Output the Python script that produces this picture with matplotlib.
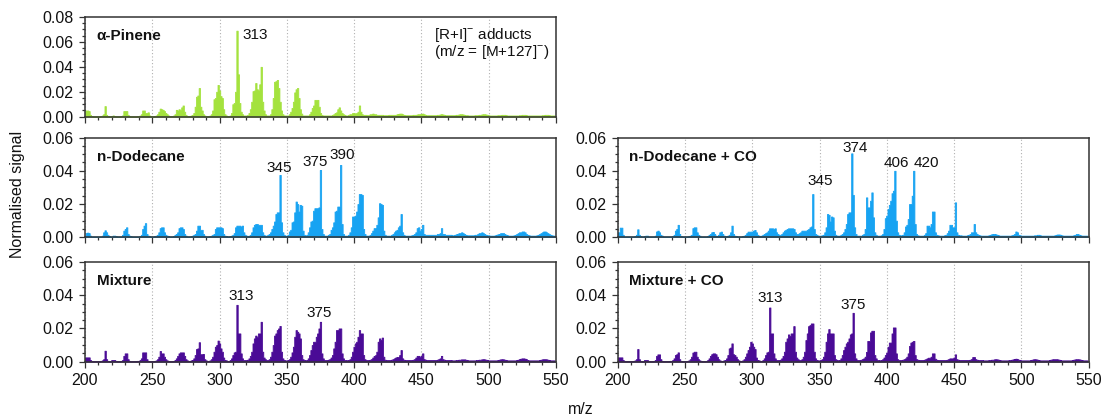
import numpy as np
import matplotlib
matplotlib.use('Agg')
import matplotlib.pyplot as plt
from matplotlib.ticker import MultipleLocator, FormatStrFormatter

plt.rcParams['font.family'] = ['Liberation Sans', 'DejaVu Sans']
plt.rcParams['mathtext.fontset'] = 'custom'
plt.rcParams['mathtext.rm'] = 'Liberation Sans'

# unit-mass channels, m/z 200..549
mz = np.arange(200, 550)

# normalised signal, x 1e-3, ten channels per row
pinene = [
    4.5, 5, 5, 4.5, 1.5, .5, .3, .3, .3, .3,          # 200
    .3, .3, .5, 1, 2, 8.5, 1.5, .5, .3, .3,           # 210
    .5, 1, .5, .3, .3, .3, .3, .5, 1, 4.5,            # 220
    4.5, 4.5, 1.5, .5, .3, .3, .3, .3, .3, .5,        # 230
    .5, 1, 2, 5, 5, 3, 3, 3.5, 1, .5,                 # 240
    .3, .3, .5, 1, 2, 4, 6.5, 6, 5.5, 4.5,            # 250
    3, 2, 1, .5, .5, .5, 1, 2, 5.5, 5,                # 260
    6, 5.5, 7.5, 9, 4, 1.5, .5, .5, .5, 1,            # 270
    1.5, 3, 8, 16, 17, 23, 8, 5, 2, 1,                # 280
    .5, .5, .5, 1, 2, 5, 14, 15, 20, 25.5,            # 290
    21, 16.5, 15, 6, 2, 1, .5, .5, 1, 3,              # 300
    10, 11, 20, 69, 34, 11, 4, 2, 1, 1,               # 310
    1, 1.5, 3, 6, 12, 20.5, 21, 27, 22, 21,           # 320
    26, 40, 12, 5, 2, 1, 1, 1, 2, 6,                  # 330
    15, 28, 28.5, 29.5, 23, 12, 5, 2, 1, 1,           # 340
    1, 1, 2, 4, 7, 12, 19.5, 22, 23, 15,              # 350
    6, 2.5, 1, 1, 1, 1, 1, 2, 4, 7,                   # 360
    9, 13.5, 13.5, 13.5, 8, 3, 1.5, 1, 1, 1,          # 370
    1, 1, 1, 1, 1.5, 2, 3, 3.5, 6, 7.5,               # 380
    5, 3, 2, 1.5, 1, 1, 1.5, 2, 2, 3,                 # 390
    3, 2.5, 3, 4, 9, 4, 2, 1.5, 1.5, 1.5,             # 400
    1, 1.5, 2, 2, 2.5, 2, 2, 1.5, 1.5, 1.5,           # 410
    1.5, 1.5, 1.2, 1.2, 1.2, 1.2, 1.5, 1.5, 1.5, 1.5, # 420
    1.5, 1.5, 2, 2.2, 2.5, 2.5, 2, 1.5, 1.2, 1.2,     # 430
    1.2, 1.2, 1.2, 1.2, 1.5, 1.5, 1.5, 1.8, 2, 2,     # 440
    2.2, 2.5, 2, 1.5, 1.2, 1.2, 1.2, 1.2, 1.2, 1.2,   # 450
    1.2, 1.2, 1.5, 1.5, 1.8, 2, 1.8, 1.5, 1.2, 1.2,   # 460
    1.2, 1.2, 1.2, 1.2, 1.2, 1.2, 1.5, 1.5, 1.8, 2,   # 470
    2, 1.8, 1.5, 1.2, 1.2, 1, 1, 1, 1, 1,             # 480
    1.2, 1.2, 1.2, 1.5, 1.5, 1.8, 2, 2, 1.8, 1.5,     # 490
    1.2, 1, 1, 1, 1, 1, 1, 1.2, 1.2, 1.2,             # 500
    1.5, 1.5, 1.5, 1.2, 1, 1, 1, 1, 1, 1,             # 510
    1, 1, 1, 1.2, 1.2, 1.5, 1.5, 1.5, 1.2, 1,         # 520
    1, 1, 1, 1, 1, 1, 1, 1, 1, 1,                     # 530
    1.2, 1.2, 1.5, 1.5, 1.5, 1.2, 1, 1, 1, 1,         # 540
]

dodecane = [
    1, 2.5, 2.8, 2.5, 1, .5, .5, .5, .5, .5,          # 200
    .5, .5, .5, 1, 3, 4.2, 3, 1.5, .8, .5,            # 210
    .5, 1, 1, .8, .5, .5, .5, .5, 1.5, 4,             # 220
    5, 6, 2, 1, .8, .5, .5, .5, .5, .5,               # 230
    .5, .8, 1.5, 5, 7, 8.5, 2, 1, .8, .5,             # 240
    .5, .5, .8, 1, 1.5, 3, 5.5, 6, 6, 3,              # 250
    1.5, 1, .8, .5, .5, .5, .8, 1.5, 2, 3,            # 260
    5.5, 6, 6, 5, 2, 1, .5, .5, .5, .8,               # 270
    1, 1.5, 2, 4, 7, 7, 4.5, 4.5, 2, 1,               # 280
    .5, .5, .5, .8, 1, 1.5, 2, 5, 6, 6,               # 290
    6, 6, 5.5, 2, 1, .8, .5, .5, .8, 1,               # 300
    1.5, 2.5, 6, 7, 7, 7, 6.5, 7, 3, 1.5,             # 310
    1, .8, 1, 1.5, 3, 6, 7.5, 8, 8, 7.5,              # 320
    7.5, 7.5, 3, 1.5, 1, 1, 1.5, 2, 3, 5,             # 330
    7, 9.5, 14, 15, 15, 37.5, 9, 3, 1.5, 1,           # 340
    1, 1.5, 3.5, 4.5, 9, 9.5, 15, 21.5, 20, 15.5,     # 350
    19.5, 19, 4, 1.5, 1, 1.5, 3, 6, 9.5, 10,          # 360
    16, 17.5, 17.5, 17.5, 18, 40.5, 5, 2, 1, 1,       # 370
    1, 1.5, 2, 4.5, 6, 9, 15.5, 16, 18.5, 18.5,       # 380
    43.5, 8, 2, 1, 1, 1, 1.5, 3, 6, 12.5,             # 390
    12.5, 13, 15.5, 20, 26, 26, 25.5, 5, 2, 1,        # 400
    1, 1, 1.5, 2.5, 4, 5.5, 5.5, 7.5, 12, 20.5,       # 410
    20, 19.5, 4, 1.5, 1, 1, 1, 1, 1.5, 2,             # 420
    3, 4, 4.5, 6, 7, 14, 3, 1.5, 1, 1,                # 430
    1, 1, 1, 1.2, 1.5, 2, 3, 5.5, 6, 4,               # 440
    5, 7.5, 2, 1.5, 1.5, 1.5, 1.5, 1.5, 1.5, 1.5,     # 450
    1.5, 1.5, 2, 2, 2.5, 5.5, 2, 2, 1.5, 1.5,         # 460
    1.5, 1.5, 1.5, 1.2, 1.2, 1.5, 1.8, 2, 2.5, 2.5,   # 470
    3, 2.5, 2, 1.5, 1.2, 1.2, 1.2, 1.2, 1.2, 1.2,     # 480
    1.5, 1.5, 2, 2.5, 2.5, 3, 2.5, 2, 1.5, 1.2,       # 490
    1.2, 1, 1, 1, 1, 1.2, 1.5, 1.8, 2, 2.5,           # 500
    2.5, 2.5, 2, 1.5, 1.2, 1, 1, 1, 1, 1.2,           # 510
    1.5, 2, 2.5, 3, 3, 3.5, 3.5, 3, 2, 1.5,           # 520
    1.2, 1, 1, 1, 1, 1, 1.2, 1.5, 2, 2.5,             # 530
    3, 3.5, 3.5, 3, 2.5, 2, 1.5, 1.2, 1, 1,           # 540
]

dodecane_co = [
    3, 3, 5.8, 5.8, 1.5, .5, .5, .5, .5, .5,          # 200
    .5, .5, .5, .8, 1.5, 4.8, 1.5, .8, .5, .5,        # 210
    .8, 1, 1, .5, .5, .5, .5, .5, 1, 3.5,             # 220
    4, 3, 1.5, 1, .5, .5, .5, .5, .5, .5,             # 230
    .5, .8, 1.5, 4, 5, 7.5, 2, .8, .5, .5,            # 240
    .5, .5, .5, .8, 1, 1.5, 5.5, 6, 6, 3,             # 250
    1.5, 1, .5, .5, .5, .5, .5, .8, 1.5, 2,           # 260
    3, 3.2, 2, 1, .8, 1.5, 3, 3.4, 2, 1,              # 270
    .8, .8, 1, 1.5, 3, 7, 2, 1, .8, .5,               # 280
    .5, .5, .5, .8, 1, 1.5, 2.5, 3.4, 3.4, 3.4,       # 290
    3.5, 4, 4.4, 3, 1.5, 1, .8, 1, 1.5, 2,            # 300
    2.5, 3, 4, 5.4, 5.4, 5.4, 5, 5.4, 3, 2,           # 310
    1.5, 1.5, 2, 3, 4, 4.5, 5, 5.4, 5.4, 5.4,         # 320
    5.4, 5, 3, 2, 2, 2.5, 3, 4, 4, 4,                 # 330
    4, 4.5, 5, 6, 6.5, 26, 5, 2, 1.5, 1,              # 340
    1, 1, 1.2, 1.5, 3, 6, 14, 13.5, 9.5, 12.5,        # 350
    12, 4, 1.5, 1, 1, 1, 1.5, 2, 3, 5,                # 360
    8, 14, 15, 15, 50.5, 25.5, 6, 2, 1, 1,            # 370
    1, 1, 1.5, 2, 5, 24, 18, 18, 22, 27,              # 380
    12, 3, 1.5, 1, 1, 1, 1.2, 2, 5, 11.5,             # 390
    13, 17, 19.5, 22, 26.5, 28, 40, 10, 3, 1.5,       # 400
    1.2, 1.2, 1.5, 3, 6.5, 7.5, 11, 20, 20, 25,       # 410
    40, 8, 2, 1.2, 1, 1, 1, 1, 1.5, 2.5,              # 420
    7, 7, 6, 8, 15.5, 15.5, 3, 1.5, 1.2, 1,           # 430
    1, 1, 1, 1.2, 1.5, 2.5, 4, 7.5, 7.5, 6,           # 440
    6, 21, 3, 1.5, 1.2, 1.2, 1, 1, 1, 1,              # 450
    1.2, 1.5, 2, 3, 3, 8, 3, 2, 1.5, 1.2,             # 460
    1, 1, 1, 1, 1, 1, 1.2, 1.5, 1.8, 2,               # 470
    2, 1.8, 1.5, 1.2, 1, 1, 1, 1, 1, 1,               # 480
    1, 1, 1, 1.2, 1.5, 2, 3.5, 3, 1.5, 1.2,           # 490
    1, 1, 1, 1, 1, 1, 1, 1, 1, 1,                     # 500
    1.2, 1.2, 1.5, 1.5, 1.2, 1, 1, 1, 1, 1,           # 510
    1, 1, 1, 1, 1, 1.2, 1.5, 1.7, 1.7, 1.5,           # 520
    1.2, 1, 1, 1, 1, 1, 1, 1, 1, 1.2,                 # 530
    1.5, 2, 2, 1.5, 1.2, 1, 1, 1, 1, 1,               # 540
]

mixture = [
    2.6, 2.6, 2.6, 2.6, 1, .5, .3, .3, .3, .3,        # 200
    .3, .3, .5, .8, 1.5, 6.6, 1.5, .5, .3, .3,        # 210
    1, 1, 1, .5, .3, .3, .3, .5, 1, 3.5,              # 220
    5, 5, 1.5, .5, .3, .3, .3, .3, .3, .5,            # 230
    .5, 1, 2, 5.6, 5.6, 5.6, 1.5, .5, .3, .3,         # 240
    .3, .3, .5, .8, 1.5, 3, 6.4, 5, 5, 3,             # 250
    1.5, .8, .5, .3, .3, .3, .5, 1, 2, 3.5,           # 260
    5, 5.6, 5.6, 5.6, 3.5, 1.5, .8, .5, .5, .8,       # 270
    1, 2, 4, 7.6, 8, 11.7, 4.5, 4.5, 4.6, 1.5,        # 280
    .8, .5, .5, .8, 1.5, 3, 6, 9, 10, 12.7,           # 290
    11, 8, 6, 2.5, 1, .8, .5, .5, 1, 2,               # 300
    4, 5.6, 6, 34.2, 17, 17, 5, 2, 1, 1,              # 310
    1, 1.2, 2, 3.5, 6, 11, 14, 15.7, 15, 17,          # 320
    17, 24, 6, 2.5, 1.5, 1, 1, 1.5, 3, 6,             # 330
    10, 15.7, 17, 19, 20, 21.5, 6, 2, 1, .8,          # 340
    .8, 1, 1.5, 3, 5.6, 9, 15, 19, 18, 17,            # 350
    14, 4, 1.5, 1, .8, 1, 2, 4, 7, 10,                # 360
    12, 12, 15, 17, 20, 24, 5, 2, 1, 1,               # 370
    1, 1.2, 1.5, 2.5, 4, 8, 12, 19, 19, 20,           # 380
    20, 5, 2, 1, 1, .8, 1, 1.5, 3, 6,                 # 390
    9, 11, 12, 15, 19, 17, 17, 4, 1.5, 1,             # 400
    1, 1, 1.2, 1.5, 2.5, 3.5, 3.9, 6, 12, 14,         # 410
    13, 14.5, 3, 1.2, 1, 1, 1, 1, 1.2, 1.5,           # 420
    2, 2.5, 2.8, 2.8, 4, 7, 2, 1.2, 1, 1,             # 430
    1, 1, 1, 1, 1.2, 1.5, 2.5, 3.5, 3.5, 3,           # 440
    3.5, 5, 1.5, 1.2, 1, 1, 1, 1, 1, 1,               # 450
    1, 1, 1.2, 1.5, 2, 3.5, 1.5, 1.2, 1, 1,           # 460
    1, 1, 1, .8, .8, .8, 1, 1, 1.2, 1.2,              # 470
    1.4, 1.4, 1.4, 1.2, 1, .8, .8, .8, .8, .8,        # 480
    .8, 1, 1, 1.2, 1.2, 1.4, 1.5, 1.4, 1.2, 1,        # 490
    .8, .8, .8, .8, .8, .8, .8, 1, 1.2, 1.4,          # 500
    1.5, 1.4, 1.2, 1, .8, .8, .8, .8, .8, .8,         # 510
    .8, 1, 1.2, 1.5, 1.8, 2, 2, 1.8, 1.5, 1,          # 520
    .8, .8, .8, .8, .8, .8, .8, .8, 1, 1.2,           # 530
    1.4, 1.5, 1.5, 1.4, 1.2, 1, .8, .8, .8, .8,       # 540
]

mixture_co = [
    2.6, 2.6, 2.6, 2.6, 1, .5, .3, .3, .3, .3,        # 200
    .3, .3, .5, .8, 1.5, 7.6, 1.5, .5, .3, .3,        # 210
    1, 1, 1, .5, .3, .3, .3, .5, 1, 3.5,              # 220
    4.4, 4.4, 1.5, .5, .3, .3, .3, .3, .3, .5,        # 230
    .5, 1, 2, 4, 4.5, 5.6, 1.5, .5, .3, .3,           # 240
    .3, .3, .5, .8, 1.5, 3, 5.5, 6, 6, 3,             # 250
    1.5, .8, .5, .3, .3, .3, .5, 1, 2, 3.5,           # 260
    4.5, 5, 5, 4.5, 3, 1.5, .8, .5, .5, .8,           # 270
    1, 2, 4, 8, 8.5, 11, 4.5, 4, 3, 1.5,              # 280
    .8, .5, .5, .8, 1.5, 3, 5, 7, 9, 12,              # 290
    11, 9, 7.6, 2.5, 1, .8, .5, .5, 1, 2,             # 300
    4, 5.6, 6, 32.6, 17, 17, 5, 2, 1, 1,              # 310
    1, 1.2, 2, 3.5, 6, 12, 14, 16.4, 15.4, 17,        # 320
    17, 21.4, 6, 2.5, 1.5, 1, 1, 1.5, 3, 6,           # 330
    13, 17, 21.4, 22, 23, 23, 6, 2, 1, .8,            # 340
    .8, 1, 1.5, 3, 6, 12, 17, 19.6, 17, 17,           # 350
    17, 4, 1.5, 1, .8, 1, 2, 4, 7, 9,                 # 360
    11, 12, 14, 16.4, 17, 29.4, 5, 2, 1, 1,           # 370
    1, 1.2, 1.5, 2, 3, 5.9, 12.5, 12.5, 17.6, 18.6,   # 380
    18.6, 4, 2, 1, 1, .8, 1, 1.5, 2.5, 4,             # 390
    5.5, 9, 11.5, 11.5, 17, 20.6, 20.6, 5, 1.5, 1,    # 400
    1, 1, 1.2, 1.5, 2, 3, 5, 9.5, 11.5, 12,           # 410
    12.5, 4, 1.5, 1.2, 1, 1, 1, 1, 1.2, 1.5,          # 420
    2, 2.4, 2.4, 3, 5, 5, 1.8, 1.2, 1, 1,             # 430
    1, 1, 1, 1, 1, 1.2, 1.5, 2, 2, 2,                 # 440
    2.5, 4.4, 1.5, 1.2, 1, 1, 1, 1, 1, 1,             # 450
    1, 1, 1.2, 1.5, 2.8, 2.8, 1.5, 1.2, 1, 1,         # 460
    1, 1, .8, .8, .8, .8, 1, 1, 1.2, 1.2,             # 470
    1.4, 1.5, 1.4, 1.2, 1, .8, .8, .8, .8, .8,        # 480
    .8, 1, 1, 1.2, 1.4, 1.6, 1.8, 1.6, 1.2, 1,        # 490
    .8, .8, .8, .8, .8, .8, .8, 1, 1.2, 1.4,          # 500
    1.5, 1.4, 1.2, 1, .8, .8, .8, .8, .8, .8,         # 510
    .8, 1, 1.2, 1.4, 1.5, 1.5, 1.5, 1.4, 1.2, 1,      # 520
    .8, .8, .8, .8, .8, .8, .8, .8, 1, 1.2,           # 530
    1.4, 1.5, 1.5, 1.4, 1.2, 1, .8, .8, .8, .8,       # 540
]

# labelled peaks per panel
pinene_peaks = [313]
dodecane_peaks = [345, 375, 390]
dodecane_co_peaks = [345, 374, 406, 420]
mixture_peaks = [313, 375]
mixture_co_peaks = [313, 375]

GREEN = '#a4e23e'
BLUE = '#17a3f2'
PURPLE = '#4a0b96'
INK = '#333333'

fig = plt.figure(figsize=(11.05, 4.2), dpi=100)

W = 0.4262
H = 0.2375
LX, RX = 0.0769, 0.559
Y_TOP, Y_MID, Y_BOT = 0.7221, 0.435, 0.1388


def panel(pos, sig, colour, ymax, title, peaks, offsets, show_x):
    ax = fig.add_axes([pos[0], pos[1], W, H])
    y = np.array(sig) * 1e-3
    # thin edge in the same colour widens the unit-mass bars a touch
    ax.fill_between(mz, y, step='mid', facecolor=colour, edgecolor=colour,
                    lw=0.6, zorder=2)
    ax.set_xlim(200, 550)
    ax.set_ylim(0, ymax)
    ax.xaxis.set_major_locator(MultipleLocator(50))
    ax.xaxis.set_minor_locator(MultipleLocator(10))
    ax.yaxis.set_major_locator(MultipleLocator(0.02))
    ax.yaxis.set_minor_locator(MultipleLocator(0.005))
    ax.yaxis.set_major_formatter(FormatStrFormatter('%.2f'))
    ax.tick_params(which='both', direction='out', color=INK, width=0.9,
                   labelsize=11.5, labelcolor='#111111')
    ax.tick_params(which='major', length=4.5)
    ax.tick_params(which='minor', length=2.5)
    if not show_x:
        ax.tick_params(axis='x', labelbottom=False)
    for s in ax.spines.values():
        s.set_color(INK)
        s.set_linewidth(1.1)
        s.set_zorder(3)
    ax.grid(axis='x', which='major', ls=(0, (1, 2)), color='#b0b0b0', lw=0.8, zorder=1)
    ax.text(0.025, 0.81, title, transform=ax.transAxes, fontsize=11,
            fontweight='bold', va='center', ha='left', color='#111111')
    for p, (dx, dy, ha) in zip(peaks, offsets):
        ax.annotate(str(p), xy=(p, y[p - 200]), xytext=(dx, dy),
                    textcoords='offset pixels', ha=ha, va='baseline',
                    fontsize=11, color='#111111')
    return ax


ax1 = panel((LX, Y_TOP), pinene, GREEN, 0.08, 'α-Pinene',
            pinene_peaks, [(5.5, -8, 'left')], False)
ax1.text(0.741, 0.824, r'[R+I]$^{\mathregular{-}}$ adducts', transform=ax1.transAxes,
         fontsize=11, va='center', ha='left', color='#111111')
ax1.text(0.741, 0.644, r'(m/z = [M+127]$^{\mathregular{-}}$)', transform=ax1.transAxes,
         fontsize=11, va='center', ha='left', color='#111111')

panel((LX, Y_MID), dodecane, BLUE, 0.06, 'n-Dodecane', dodecane_peaks,
      [(-1, 3, 'center'), (-5, 4, 'center'), (2, 6, 'center')], False)
panel((RX, Y_MID), dodecane_co, BLUE, 0.06, 'n-Dodecane + CO', dodecane_co_peaks,
      [(7, 9, 'center'), (3, 1, 'center'), (1, 4, 'center'), (0, 4, 'left')], False)
panel((LX, Y_BOT), mixture, PURPLE, 0.06, 'Mixture', mixture_peaks,
      [(4, 5, 'center'), (-1, 5, 'center')], True)
panel((RX, Y_BOT), mixture_co, PURPLE, 0.06, 'Mixture + CO', mixture_co_peaks,
      [(0, 6, 'center'), (0, 4, 'center')], True)

fig.text(0.016, 0.536, 'Normalised signal', rotation=90, ha='center', va='center',
         fontsize=11.5, color='#111111')
fig.text(0.526, 0.024, 'm/z', ha='center', va='center', fontsize=11.5, color='#111111')

fig.savefig('out.png', dpi=100)
